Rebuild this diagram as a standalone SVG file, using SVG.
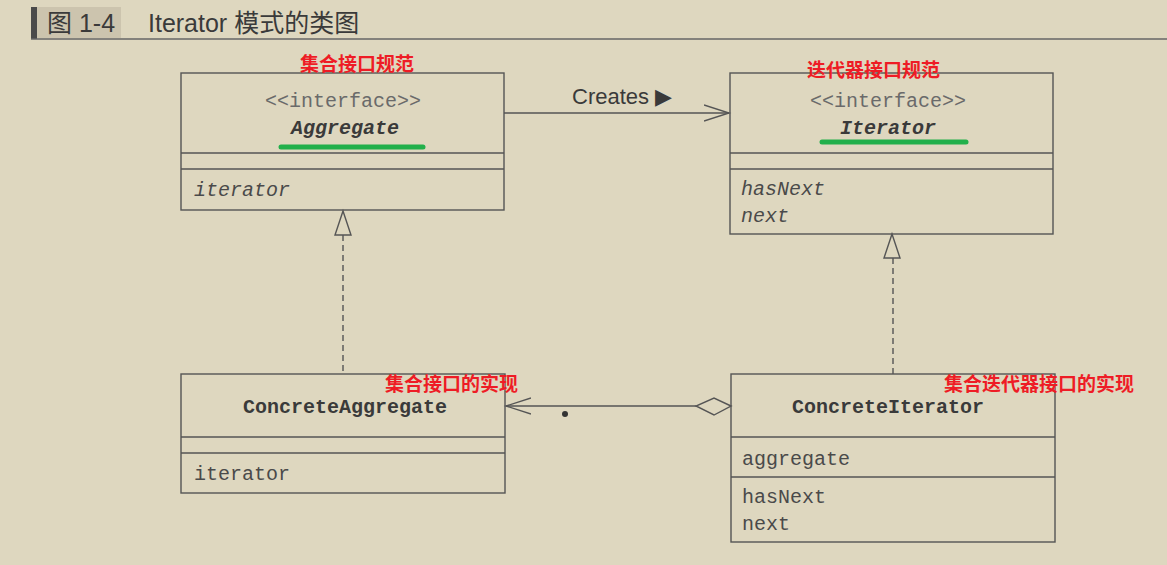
<svg xmlns="http://www.w3.org/2000/svg" width="1167" height="565" viewBox="0 0 1167 565">
<defs>
<style>
.box{fill:none;stroke:#555;stroke-width:1.4}
.ln{stroke:#555;stroke-width:1.4;fill:none}
.mono{font-family:"Liberation Mono","DejaVu Sans Mono",monospace;font-size:20px;fill:#4a4a4a}
.stereo{fill:#6a6a6a}
.bold{font-weight:bold;fill:#3a3a3a}
.it{font-style:italic}
.red{font-family:"Noto Sans CJK SC",sans-serif;font-size:19px;font-weight:bold;fill:#ee1c25}
.green{stroke:#22b04b;stroke-width:5;stroke-linecap:round}
.hdr{font-family:"Liberation Sans","Noto Sans CJK SC",sans-serif;font-size:25px;fill:#3a3a3a}
</style>
<marker id="open" markerWidth="30" markerHeight="20" refX="25" refY="9" orient="auto" markerUnits="userSpaceOnUse">
<path d="M0,1 L25,9 L0,17" fill="none" stroke="#555" stroke-width="1.4"/>
</marker>
</defs>
<rect width="1167" height="565" fill="#ded7bf"/>
<g id="header">
<rect x="31" y="7" width="6" height="32" fill="#4a4a4a"/>
<rect x="37" y="7" width="84" height="31" fill="#ccc4ae"/>
<line x1="31" y1="39" x2="1167" y2="39" stroke="#666" stroke-width="1.5"/>
<text class="hdr" x="47" y="32">图 1-4</text>
<text class="hdr" x="148" y="32">Iterator 模式的类图</text>
</g>
<g id="connectors">
<line class="ln" x1="504" y1="113" x2="729" y2="113" marker-end="url(#open)"/>
<text x="572" y="104" font-family="'Liberation Sans',sans-serif" font-size="22" fill="#3a3a3a">Creates ▶</text>
<line class="ln" x1="343" y1="235" x2="343" y2="374" stroke-dasharray="6,4"/>
<path class="ln" d="M343,211 L335,235 L351,235 Z"/>
<line class="ln" x1="893" y1="258" x2="893" y2="374" stroke-dasharray="6,4"/>
<path class="ln" d="M892,234 L884,258 L900,258 Z"/>
<line class="ln" x1="696" y1="406" x2="506" y2="406" marker-end="url(#open)"/>
<path class="ln" d="M731,406 L714,398 L696,406 L714,415 Z"/>
<circle cx="565" cy="414" r="3" fill="#333"/>
</g>
<g id="Aggregate">
<rect class="box" x="181" y="73" width="323" height="137"/>
<line class="ln" x1="181" y1="153" x2="504" y2="153"/>
<line class="ln" x1="181" y1="169" x2="504" y2="169"/>
<text class="mono stereo" x="343" y="107" text-anchor="middle">&lt;&lt;interface&gt;&gt;</text>
<text class="mono bold it" x="345" y="134" text-anchor="middle">Aggregate</text>
<line class="green" x1="281" y1="147" x2="423" y2="147"/>
<text class="mono it" x="194" y="196">iterator</text>
<text class="red" x="300" y="71">集合接口规范</text>
</g>
<g id="Iterator">
<rect class="box" x="730" y="73" width="323" height="161"/>
<line class="ln" x1="730" y1="153" x2="1053" y2="153"/>
<line class="ln" x1="730" y1="169" x2="1053" y2="169"/>
<text class="mono stereo" x="888" y="107" text-anchor="middle">&lt;&lt;interface&gt;&gt;</text>
<text class="mono bold it" x="888" y="134" text-anchor="middle">Iterator</text>
<line class="green" x1="822" y1="142" x2="966" y2="142"/>
<text class="mono it" x="741" y="195">hasNext</text>
<text class="mono it" x="741" y="222">next</text>
<text class="red" x="807" y="77">迭代器接口规范</text>
</g>
<g id="ConcreteAggregate">
<rect class="box" x="181" y="374" width="324" height="119"/>
<line class="ln" x1="181" y1="437" x2="505" y2="437"/>
<line class="ln" x1="181" y1="453" x2="505" y2="453"/>
<text class="mono bold" x="345" y="413" text-anchor="middle">ConcreteAggregate</text>
<text class="mono" x="194" y="480">iterator</text>
<text class="red" x="385" y="391">集合接口的实现</text>
</g>
<g id="ConcreteIterator">
<rect class="box" x="731" y="374" width="324" height="168"/>
<line class="ln" x1="731" y1="437" x2="1055" y2="437"/>
<line class="ln" x1="731" y1="477" x2="1055" y2="477"/>
<text class="mono bold" x="888" y="413" text-anchor="middle">ConcreteIterator</text>
<text class="mono" x="742" y="465">aggregate</text>
<text class="mono" x="742" y="503">hasNext</text>
<text class="mono" x="742" y="530">next</text>
<text class="red" x="944" y="391">集合迭代器接口的实现</text>
</g>
</svg>
